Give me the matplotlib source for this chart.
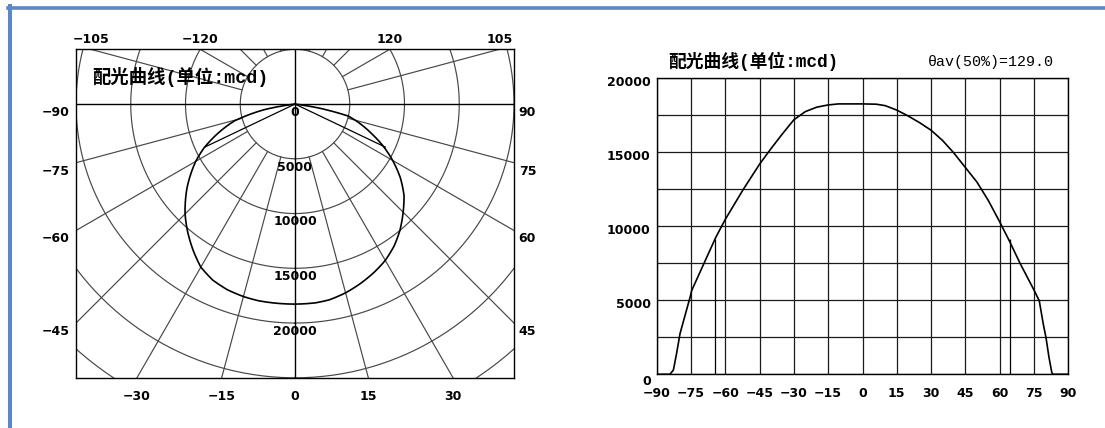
import numpy as np
import matplotlib
matplotlib.use("Agg")
import matplotlib.pyplot as plt
from matplotlib.lines import Line2D
from matplotlib.path import Path
from matplotlib.transforms import offset_copy

# angle (deg) / luminous intensity (mcd)
angles = [-90, -84.2, -82.7, -81.3, -79.8, -77.6, -75.4, -74.7, -71.1, -64.2, -60,
          -52.2, -45, -40, -35, -30, -25, -20, -15, -10.5, 0, 6, 10, 15, 20, 25,
          30, 35, 39.7, 45, 50, 55, 60, 64.2, 68.9, 75, 77.3, 79, 80.3, 81.5,
          82.8, 83.3, 90]
intensity = [0, 0, 290, 1410, 2750, 3980, 5210, 5660, 6890, 9240, 10470,
             12480, 14200, 15250, 16250, 17200, 17750, 18050, 18200, 18270, 18270, 18250,
             18150, 17850, 17450, 17000, 16490, 15800, 15000, 13970, 13000, 11750, 10300,
             9020, 7500, 5690, 4970, 3440, 2430, 1190, 110, 0, 0]

half_angle = 64.5          # theta(50%) / 2
theta_av = 129.0

# polar grid
rings = [5000, 10000, 15000, 20000, 25000, 30000]
ring_labels = [0, 5000, 10000, 15000, 20000]
spokes = [15, 30, 45, 60, 75, 105, 120, 135, 150, 165]
edge_labels = [-105, -120, 120, 105, -90, -75, -60, -45, 90, 75, 60, 45,
               -30, -15, 0, 15, 30]

# cartesian grid
x_ticks = list(range(-90, 91, 15))
y_lines = list(range(0, 20001, 2500))
y_labels = [0, 5000, 10000, 15000, 20000]

title = "配光曲线(单位:mcd)"
cjk = ["Liberation Mono", "Noto Sans CJK SC"]
num_font = dict(family="DejaVu Sans", fontweight="bold", fontsize=9)

W, H = 1105, 428
fig = plt.figure(figsize=(W / 100, H / 100), dpi=100)
fig.patch.set_facecolor("white")


def box(l, t, r, b):
    return [l / W, 1 - b / H, (r - l) / W, (b - t) / H]


def shift(ax, ox, oy):
    return offset_copy(ax.transData, fig=fig, x=ox, y=oy, units="dots")


# ---------------- left: polar diagram ----------------
xmin, xmax, ymin, ymax = -20000, 20000, -25000, 5000
L, T, R_, B = 76, 49.3, 514, 377.7
scale = (R_ - L) / (xmax - xmin)            # px per mcd
ox0, oy0 = L - xmin * scale, T + ymax * scale  # origin in px

ax1 = fig.add_axes(box(L, T, R_, B))
ax1.set_xlim(xmin, xmax)
ax1.set_ylim(ymin, ymax)
ax1.set_xticks([])
ax1.set_yticks([])
ax1.set_zorder(2)
ax1.patch.set_alpha(0)
for sp in ax1.spines.values():
    sp.set_linewidth(1.0)
ax1.axhline(0, color="k", lw=1.0)
ax1.axvline(0, color="k", lw=1.0)

rmax = 32100
rp = rmax * scale
axp = fig.add_axes(box(ox0 - rp, oy0 - rp, ox0 + rp, oy0 + rp), projection="polar")
axp.set_zorder(1)
axp.set_theta_zero_location("S")
axp.set_theta_direction(1)
axp.set_ylim(0, rmax)
axp.set_axis_off()

grid_c = "#474747"
full = np.radians(np.arange(0, 361, 1))
for r in rings:
    axp.plot(full, np.full_like(full, r), color=grid_c, lw=0.85)
for a in spokes:
    for s in (-1, 1):
        t = np.radians(s * a)
        axp.plot([t, t], [5000, rmax], color=grid_c, lw=0.85)

curve = Path(np.column_stack([np.radians(angles), intensity])).interpolated(20)
axp.plot(curve.vertices[:, 0], curve.vertices[:, 1], color="k", lw=1.2)

half_val = max(intensity) / 2
for s in (-1, 1):
    t = np.radians(s * half_angle)
    axp.plot([t, t], [0, half_val], color="k", lw=0.9)

for ln in axp.lines:
    ln.set_clip_path(ax1.patch)

for r in ring_labels:
    ax1.text(0, -r, str(r), ha="center", va="center",
             transform=shift(ax1, 0, -8.4), **num_font)

for a in edge_labels:
    t = np.radians(a)
    dx, dy = np.sin(t), -np.cos(t)
    tx = (xmax if dx > 0 else xmin) / dx if abs(dx) > 1e-9 else np.inf
    ty = (ymax if dy > 0 else ymin) / dy if abs(dy) > 1e-9 else np.inf
    k = min(tx, ty)
    if tx < ty:
        if dx > 0:
            ha, ox, oy = "left", 4.7, -8.4
        else:
            ha, ox, oy = "right", -6, -8.4
    elif dy < 0:
        ha, ox, oy = "center", 0, -18.3
    else:
        ha, ox, oy = "center", 0, 10
    lab = str(a).replace("-", "\u2212")
    ax1.text(k * dx, k * dy, lab, ha=ha, va="center", clip_on=False,
             transform=shift(ax1, ox, oy), **num_font)

fig.text(92.7 / W, 1 - 76.7 / H, title, ha="left", va="center",
         family=cjk, fontweight="bold", fontsize=13.2, zorder=5)

# ---------------- right: cartesian diagram ----------------
ax2 = fig.add_axes(box(656.7, 78.3, 1068.3, 374.3))
ax2.set_xlim(-90, 90)
ax2.set_ylim(0, 20000)
ax2.set_xticks(x_ticks)
ax2.set_yticks(y_lines)
ax2.set_yticklabels([])
ax2.grid(True, color="#1a1a1a", lw=0.9)
ax2.set_axisbelow(True)
ax2.tick_params(length=0, pad=9.3, labelsize=9)
for lab in ax2.get_xticklabels():
    lab.set_fontweight("bold")
for sp in ax2.spines.values():
    sp.set_linewidth(1.0)

ax2.plot(angles, intensity, color="k", lw=1.2)
ax2.vlines([-half_angle, half_angle], 0, half_val, color="k", lw=0.9)

for v in y_labels:
    oy = -7.0 if v == 0 else -4.4
    ax2.text(-90, v, str(v), ha="right", va="center", clip_on=False,
             transform=shift(ax2, -6, oy), **num_font)

fig.text(668.3 / W, 1 - 61.7 / H, title, ha="left", va="center",
         family=cjk, fontweight="bold", fontsize=12.8)
fig.text(990.7 / W, 1 - 62.2 / H, "\u03b8av(50%%)=%.1f" % theta_av, ha="center",
         va="center", family=["Liberation Mono", "DejaVu Sans Mono"], fontsize=10.8)

# blue frame
blue = "#5b87c7"
fig.add_artist(Line2D([10.3 / W, 10.3 / W], [0, 1 - 5.7 / H], color=blue, lw=2.9))
fig.add_artist(Line2D([8.3 / W, 1], [1 - 7.5 / H, 1 - 7.5 / H], color=blue, lw=2.6))

fig.savefig("out.png", dpi=100, facecolor="white")
